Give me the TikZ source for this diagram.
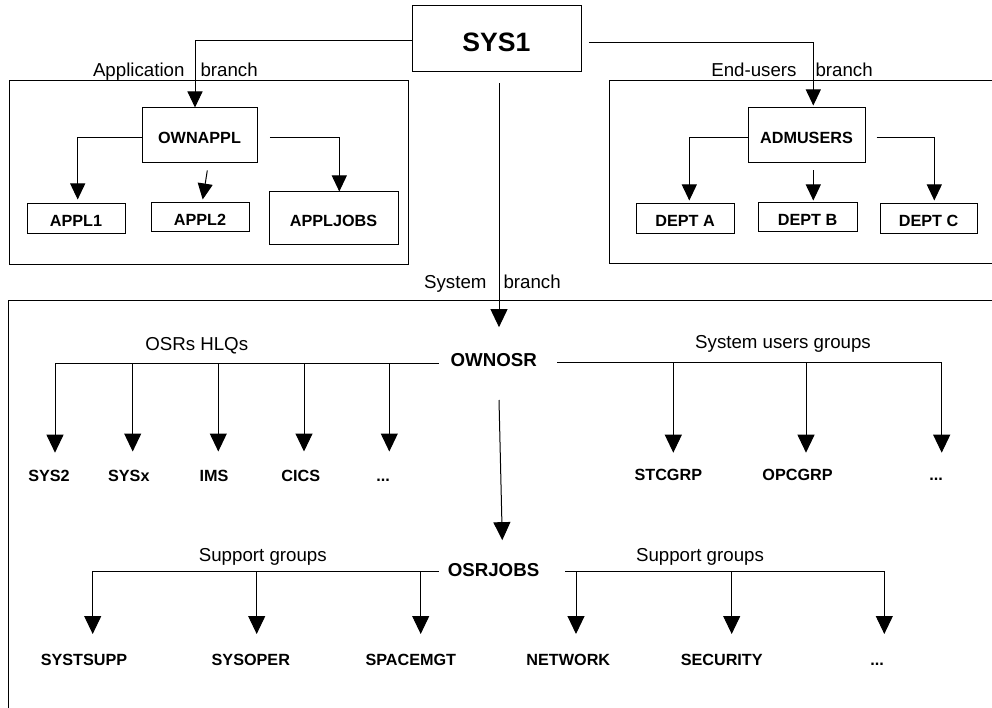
\documentclass[tikz,border=0pt]{standalone}
\usepackage{fontspec}
\setmainfont{Liberation Sans}
\usetikzlibrary{arrows.meta}
\begin{document}
\begin{tikzpicture}[x=1pt,y=-1pt,
  line width=1pt,
  arr/.style={-{Triangle[length=18pt,width=17pt]}},
  arrs/.style={-{Triangle[length=16pt,width=15pt]}},
  box/.style={draw,inner sep=0pt,text height=15.6pt,text depth=0pt,
    font=\bfseries\fontsize{16.2}{19}\selectfont},
  leaf/.style={anchor=base,inner sep=0pt,font=\bfseries\fontsize{16.2}{19}\selectfont},
  hub/.style={anchor=base,inner sep=0pt,font=\bfseries\fontsize{18.7}{22}\selectfont},
  lbl/.style={inner sep=0pt,font=\fontsize{18.7}{22}\selectfont}]
\useasboundingbox (0,0) rectangle (992,708);
\clip (0,0) rectangle (992,708);

% group frames (the right and lower ones run past the page edge)
\draw (9,81) rectangle (408,265);
\draw (1000,81) -- (609,81) -- (609,264) -- (1000,264);
\draw (1000,300) -- (8.3,300) -- (8.3,720);

% root
\node[box,minimum width=169pt,minimum height=66pt,text height=25pt,
  font=\bfseries\fontsize{26.6}{30}\selectfont] (sys1) at (496.5,39) {SYS1};

% application branch
\node[box,minimum width=115pt,minimum height=55pt] (ownappl) at (199.5,135.5) {OWNAPPL};
\node[box,minimum width=98pt,minimum height=30pt] (appl1) at (76,219) {APPL1};
\node[box,minimum width=98pt,minimum height=29pt] (appl2) at (200,217.5) {APPL2};
\node[box,minimum width=129pt,minimum height=53pt] (appljobs) at (333.5,218.5) {APPLJOBS};
\node[lbl,anchor=base east] (applab) at (185,76.7) {Application};
\node[lbl,anchor=base west] (appbr) at (200,76.7) {branch};

% end-users branch
\node[box,minimum width=117pt,minimum height=55pt] (admusers) at (806.5,135.5) {ADMUSERS};
\node[box,minimum width=98pt,minimum height=30pt] (depta) at (685,219) {DEPT A};
\node[box,minimum width=99pt,minimum height=29pt] (deptb) at (807.5,217.5) {DEPT B};
\node[box,minimum width=97pt,minimum height=30pt] (deptc) at (928.5,219) {DEPT C};
\node[lbl,anchor=base east] (endlab) at (797,76.5) {End-users};
\node[lbl,anchor=base west] (endbr) at (815,76.5) {branch};

% system branch
\node[lbl,anchor=base east] (syslab) at (487,288.3) {System};
\node[lbl,anchor=base west] (sysbr) at (503,288.3) {branch};
\node[hub] (ownosr) at (493.7,366.7) {OWNOSR};
\node[hub] (osrjobs) at (493.5,576.7) {OSRJOBS};

\node[lbl,anchor=base] (hlq) at (196.7,350) {OSRs HLQs};
\node[lbl,anchor=base] (sug) at (783,348.3) {System users groups};
\node[lbl,anchor=base] (supL) at (262.8,561.7) {Support groups};
\node[lbl,anchor=base] (supR) at (700,561.7) {Support groups};

% leaves
\node[leaf] (sys2) at (49,481.5) {SYS2};
\node[leaf] (sysx) at (128.8,481.5) {SYSx};
\node[leaf] (ims) at (214,481.5) {IMS};
\node[leaf] (cics) at (300.8,481.5) {CICS};
\node[leaf] (moreA) at (383,481.5) {...};
\node[leaf] (stcgrp) at (668.3,480.7) {STCGRP};
\node[leaf] (opcgrp) at (797.5,480.7) {OPCGRP};
\node[leaf] (moreB) at (936,480.7) {...};
\node[leaf] (systsupp) at (84,665) {SYSTSUPP};
\node[leaf] (sysoper) at (250.8,665) {SYSOPER};
\node[leaf] (spacemgt) at (410.8,665) {SPACEMGT};
\node[leaf] (network) at (568.3,665) {NETWORK};
\node[leaf] (security) at (721.7,665) {SECURITY};
\node[leaf] (moreC) at (877,665) {...};

% connectors from the root
\draw[arrs] ([yshift=-1.7pt]sys1.west) -| ([xshift=-4.5pt]ownappl.north);
\draw[arrs] ([xshift=7.3pt,yshift=-3.7pt]sys1.east) -| ([xshift=6.8pt,yshift=2pt]admusers.north);
\draw[arr] ([xshift=2.5pt,yshift=-10.7pt]sys1.south) -- ([xshift=5.3pt,yshift=26pt]ownosr.north);

% application children
\draw[arrs] ([yshift=-2.2pt]ownappl.west) -| ([xshift=1.7pt,yshift=4pt]appl1.north);
\draw[arrs] ([xshift=7.8pt,yshift=-7pt]ownappl.south) -- ([xshift=2.7pt,yshift=3pt]appl2.north);
\draw[arrs] ([xshift=12.3pt,yshift=-2.2pt]ownappl.east) -| ([xshift=5.8pt]appljobs.north);

% end-users children
\draw[arrs] ([yshift=-2.2pt]admusers.west) -| ([xshift=4.3pt,yshift=3pt]depta.north);
\draw[arrs] ([xshift=6.8pt,yshift=-7pt]admusers.south) -- ([xshift=5.8pt,yshift=2pt]deptb.north);
\draw[arrs] ([xshift=11pt,yshift=-2.2pt]admusers.east) -| ([xshift=5.8pt,yshift=3pt]deptc.north);

% OWNOSR bars
\draw[arr] (ownosr.base west) ++(-11.4,-3.4) -- (55,363.3) -- (55,452.7);
\foreach \x in {132.7,218.3,304,389.3}
  \draw[arr] (\x,363.3) -- (\x,451.5);
\draw[arr] (ownosr.base east) ++(20,-4) -- (941.7,362.7) -- (941.7,452.7);
\foreach \x in {673.3,806}
  \draw[arr] (\x,362.7) -- (\x,452.7);

% OWNOSR to OSRJOBS
\draw[arr] ([xshift=5.3pt,yshift=-33.3pt]ownosr.base) -- ([xshift=8.8pt,yshift=23pt]osrjobs.north);

% OSRJOBS bars
\draw[arr] (osrjobs.base west) ++(-8.4,-5) -- (92.7,571.7) -- (92.7,634);
\foreach \x in {256.7,420.7}
  \draw[arr] (\x,571.7) -- (\x,634);
\draw[arr] (osrjobs.base east) ++(25.7,-5) -- (884.3,571.7) -- (884.3,634);
\foreach \x in {576,731.7}
  \draw[arr] (\x,571.7) -- (\x,634);
\end{tikzpicture}
\end{document}
